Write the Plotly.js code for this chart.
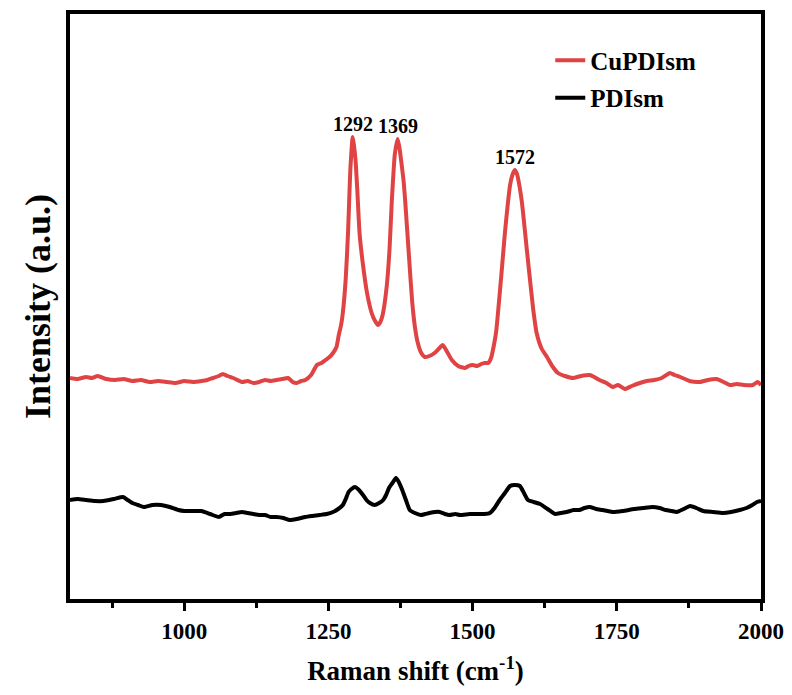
<!DOCTYPE html>
<html>
<head>
<meta charset="utf-8">
<script src="https://cdn.plot.ly/plotly-3.0.1.min.js"></script>
<style>html,body{margin:0;padding:0;background:#fff;}#chart{width:792px;height:695px;}</style>
</head>
<body>
<div id="chart"></div>
<script>
const cuX = [802,815,830,840,850,865,880,895,910,925,940,955,970,985,1000,1015,1030,1040,1050,1060,1067,1075,1085,1100,1110,1120,1130,1140,1150,1160,1170,1180,1188,1195,1203,1210,1220,1230,1238,1245,1252,1258,1264,1268,1272,1275,1280,1284,1286,1288,1290,1292,1294,1297,1300,1304,1310,1317,1325,1330,1336,1340,1344,1351,1356,1360,1363,1365,1367,1370,1373,1376,1380,1383,1390,1395,1400,1405,1411,1417,1425,1434,1441,1448,1452,1456,1464,1475,1487,1493,1500,1508,1515,1521,1527,1532,1537,1541,1544,1550,1556,1561,1565,1569,1573,1577,1580,1584,1587,1593,1599,1605,1611,1620,1629,1638,1648,1660,1674,1688,1703,1711,1720,1732,1743,1752,1764,1776,1790,1802,1815,1828,1842,1850,1860,1876,1894,1908,1923,1935,1946,1958,1970,1986,1994,2000];
const cuY = [221,220,222,221,223,220,219,220,218,219,217,218,217,216,218,217,218,219,221,223,225,223,221,217,218,216,217,219,218,219,220,221,217,216,218,219,224,234,236,239,242,246,252,264,274,286,320,366,398,429,448,462,455,439,410,366,334,306,286,279,274,277,284,312,350,399,428,444,452,460,452,439,420,399,340,299,272,256,246,242,243,246,250,254,251,247,239,233,231,233,234,233,235,236,236,241,254,268,286,325,366,395,414,424,429,425,417,403,389,355,322,290,266,250,242,233,226,223,221,223,224,222,219,216,212,214,210,213,216,218,219,221,226,224,222,218,217,219,220,217,214,215,214,214,217,214];
const pdX = [802,815,830,845,860,878,894,902,910,920,930,945,960,975,990,1000,1015,1030,1045,1060,1070,1080,1090,1100,1110,1120,1130,1140,1150,1160,1172,1183,1195,1210,1222,1235,1247,1258,1267,1275,1280,1285,1290,1296,1303,1310,1316,1322,1330,1338,1345,1350,1355,1361,1367,1372,1378,1385,1391,1400,1410,1418,1425,1435,1443,1452,1460,1470,1478,1495,1510,1520,1530,1538,1547,1556,1565,1573,1582,1589,1596,1606,1617,1630,1643,1653,1663,1675,1685,1694,1703,1714,1725,1734,1743,1760,1780,1796,1812,1824,1835,1845,1854,1866,1877,1888,1900,1917,1934,1948,1963,1975,1985,1993,2000];
const pdY = [99,100,99,98,98,100,102,99,96,94,92,94,94,92,89,88,88,88,85,82,85,85,86,87,86,85,84,84,82,82,81,79,80,82,83,84,85,87,90,94,100,107,110,112,109,104,99,96,94,96,99,104,111,116,121,117,109,98,89,86,84,85,86,87,87,85,84,85,84,85,85,85,86,91,99,106,113,114,113,106,99,97,95,90,85,86,87,89,89,91,92,90,89,88,87,88,90,91,92,91,89,88,87,90,93,91,88,87,86,87,89,91,94,97,98];
const peakLabels = ['1292','1369','1572'];
const peakX = [1292,1370,1573];
const peakY = [462,460,429];

const serif = 'Liberation Serif, Times New Roman, serif';
const traces = [
  {x: cuX, y: cuY, name: 'CuPDIsm', legendgroup: 'a', mode: 'lines', line: {color: '#E04343', width: 4, shape: 'spline', smoothing: 0.5}},
  {x: pdX, y: pdY, name: 'PDIsm', legendgroup: 'b', mode: 'lines', line: {color: '#000000', width: 4, shape: 'spline', smoothing: 0.5}}
];
const annotations = peakLabels.map((t, i) => ({
  x: peakX[i], y: peakY[i], xref: 'x', yref: 'y', text: t, showarrow: false,
  yanchor: 'bottom', yshift: 0,
  font: {family: serif, size: 20, color: '#000', weight: 'bold'}
}));
const layout = {
  width: 792, height: 695,
  margin: {l: 70, r: 31, t: 14, b: 96},
  paper_bgcolor: '#fff', plot_bgcolor: '#fff',
  showlegend: true,
  legend: {x: 0.695, y: 0.96, xanchor: 'left', yanchor: 'top', bgcolor: 'rgba(0,0,0,0)',
    font: {family: serif, size: 25, color: '#000', weight: 'bold'}, tracegroupgap: 2},
  xaxis: {
    range: [802, 2000], showgrid: false, zeroline: false,
    showline: true, linecolor: '#000', linewidth: 4, mirror: true,
    ticks: 'outside', ticklen: 8, tickwidth: 3, tickcolor: '#000',
    tickmode: 'array', tickvals: [1000,1250,1500,1750,2000],
    minor: {tickmode: 'array', tickvals: [875,1125,1375,1625,1875], ticks: 'outside', ticklen: 5, tickwidth: 3, tickcolor: '#000'},
    tickfont: {family: serif, size: 23, color: '#000', weight: 'bold'},
    title: {text: 'Raman shift (cm<sup>-1</sup>)', font: {family: serif, size: 27, color: '#000', weight: 'bold'}, standoff: 20}
  },
  yaxis: {
    range: [0, 585], showgrid: false, zeroline: false,
    showline: true, linecolor: '#000', linewidth: 4, mirror: true,
    ticks: '', showticklabels: false,
    title: {text: 'Intensity (a.u.)', font: {family: serif, size: 36, color: '#000', weight: 'bold'}, standoff: 5}
  },
  annotations: annotations
};
Plotly.newPlot('chart', traces, layout, {displayModeBar: false, staticPlot: true});
</script>
</body>
</html>
